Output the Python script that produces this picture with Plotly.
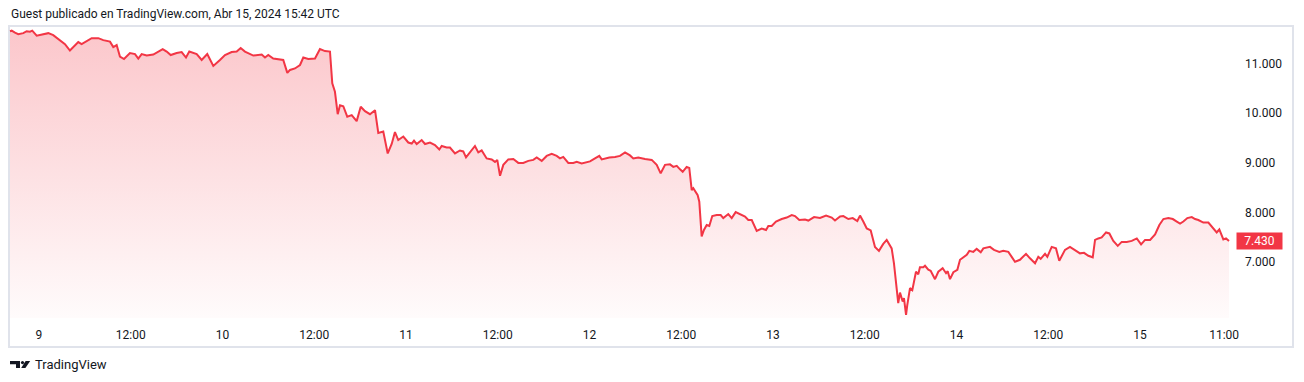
import pandas as pd
import plotly.graph_objects as go

# ---- data (hours since 2024-04-09 00:00, price) ----
hours = [-3.79, -3.57, -3.14, -2.71, -2.05, -1.61, -1.18, -0.88, -0.30, 0.35, 1.22, 1.87, 2.52, 3.40, 4.05,
         4.71, 5.14, 5.58, 6.24, 6.89, 7.76, 8.41, 9.29, 9.72, 10.16, 10.59, 11.12, 11.90, 12.56, 12.99,
         13.43, 14.09, 14.95, 15.60, 16.18, 16.70, 17.23, 18.01, 18.66, 19.23, 19.66, 20.63, 21.28, 22.01,
         22.80, 23.67, 24.33, 25.20, 25.86, 26.38, 26.94, 28.03, 29.13, 29.56, 29.99, 30.64, 31.30, 31.95,
         32.48, 32.83, 33.48, 34.14, 34.57, 35.22, 36.10, 36.75, 37.41, 38.06, 38.36, 38.71, 39.07, 39.37,
         39.80, 40.32, 40.90, 41.55, 42.08, 42.64, 43.29, 43.95, 44.38, 45.03, 45.61, 46.13, 46.56, 46.99,
         47.65, 48.30, 48.75, 49.05, 49.40, 50.05, 50.49, 51.14, 51.79, 52.36, 52.67, 53.32, 53.75, 54.41,
         55.06, 55.49, 55.85, 56.46, 57.02, 57.46, 57.90, 58.55, 59.21, 59.64, 59.94, 60.30, 60.73, 61.38,
         62.04, 62.69, 63.34, 64.00, 64.65, 65.10, 65.75, 66.40, 67.06, 67.71, 68.14, 68.57, 69.23, 69.88,
         70.33, 70.98, 71.41, 72.07, 72.72, 73.28, 73.60, 74.03, 74.59, 75.34, 75.99, 76.65, 77.30, 77.73,
         78.38, 79.26, 80.14, 80.79, 81.31, 81.88, 82.53, 82.96, 83.41, 83.84, 84.19, 84.71, 85.05, 85.37,
         85.58, 86.15, 86.36, 86.67, 86.97, 87.33, 87.67, 88.06, 88.64, 89.16, 89.50, 90.15, 90.60, 91.12,
         91.69, 92.34, 92.77, 93.22, 93.87, 94.52, 95.09, 95.39, 95.83, 96.39, 97.14, 97.79, 98.45, 98.88,
         99.44, 100.19, 100.62, 101.37, 102.15, 102.94, 103.68, 104.11, 104.77, 105.20, 105.85, 106.43,
         107.03, 107.38, 107.81, 108.26, 108.78, 109.34, 109.86, 110.42, 110.87, 111.52, 111.82, 112.18,
         112.38, 112.61, 112.96, 113.13, 113.40, 113.56, 113.92, 114.22, 114.70, 115.00, 115.22, 115.66,
         115.88, 116.31, 116.62, 117.19, 117.62, 118.19, 118.63, 118.85, 119.15, 119.59, 120.11, 120.46,
         120.89, 121.34, 121.68, 122.20, 122.64, 123.17, 123.51, 124.38, 124.90, 125.60, 126.12, 126.78,
         127.22, 127.65, 128.30, 129.09, 129.61, 130.27, 130.70, 131.01, 131.58, 131.88, 132.45, 133.01,
         133.44, 133.89, 134.19, 134.84, 135.50, 136.15, 136.68, 137.24, 137.82, 138.12, 138.55, 138.99,
         139.56, 139.99, 140.51, 141.09, 141.61, 142.27, 142.92, 143.58, 144.14, 144.66, 145.32, 145.97,
         146.53, 147.06, 147.71, 148.29, 148.81, 149.24, 149.67, 150.19, 150.77, 151.20, 151.63, 152.28,
         152.94, 153.51, 154.03, 154.37, 154.90, 155.25, 155.64]

prices = [11.65, 11.66, 11.62, 11.59, 11.61, 11.65, 11.64, 11.66, 11.56, 11.58, 11.61, 11.57, 11.49, 11.39, 11.26,
          11.37, 11.43, 11.39, 11.45, 11.51, 11.51, 11.47, 11.44, 11.33, 11.37, 11.14, 11.09, 11.21, 11.19, 11.10,
          11.19, 11.16, 11.18, 11.24, 11.29, 11.24, 11.17, 11.21, 11.23, 11.12, 11.24, 11.19, 11.07, 11.19,
          10.95, 11.07, 11.17, 11.23, 11.24, 11.31, 11.24, 11.16, 11.18, 11.12, 11.17, 11.10, 11.09, 11.07,
          10.81, 10.87, 10.90, 10.97, 11.12, 11.09, 11.10, 11.29, 11.25, 11.24, 10.60, 10.43, 9.98, 10.16,
          10.14, 9.93, 9.96, 9.84, 10.13, 10.04, 9.98, 10.06, 9.60, 9.63, 9.19, 9.38, 9.62, 9.46,
          9.53, 9.41, 9.39, 9.45, 9.38, 9.46, 9.38, 9.41, 9.36, 9.27, 9.34, 9.31, 9.31, 9.19,
          9.25, 9.23, 9.11, 9.23, 9.34, 9.21, 9.25, 9.09, 9.07, 9.02, 9.06, 8.74, 8.96, 9.07,
          9.08, 9.00, 9.00, 9.04, 9.06, 9.11, 9.04, 9.14, 9.18, 9.14, 9.09, 9.12, 9.00, 9.00,
          9.02, 8.99, 9.01, 9.03, 9.09, 9.14, 9.07, 9.09, 9.11, 9.12, 9.14, 9.21, 9.15, 9.09,
          9.11, 9.08, 9.06, 8.96, 8.79, 8.96, 8.97, 8.92, 8.94, 8.87, 8.82, 8.92, 8.90, 8.45,
          8.49, 8.35, 8.22, 7.52, 7.65, 7.75, 7.73, 7.93, 7.95, 7.95, 7.89, 7.97, 7.89, 8.01,
          7.97, 7.92, 7.85, 7.85, 7.63, 7.68, 7.65, 7.73, 7.73, 7.82, 7.87, 7.90, 7.95, 7.93,
          7.85, 7.86, 7.84, 7.91, 7.89, 7.94, 7.90, 7.84, 7.92, 7.93, 7.87, 7.89,
          7.83, 7.94, 7.82, 7.68, 7.64, 7.31, 7.23, 7.37, 7.45, 7.28, 6.98, 6.44,
          6.18, 6.39, 6.21, 6.28, 5.94, 6.14, 6.48, 6.44, 6.81, 6.76, 6.90, 6.90,
          6.93, 6.85, 6.83, 6.66, 6.81, 6.88, 6.78, 6.82, 6.66, 6.80, 6.85, 7.05,
          7.10, 7.15, 7.23, 7.21, 7.27, 7.20, 7.28, 7.31, 7.25, 7.21, 7.23, 7.21,
          7.11, 7.01, 7.05, 7.17, 7.08, 6.98, 7.11, 7.07, 7.17, 7.11, 7.31, 7.28,
          7.03, 7.17, 7.25, 7.31, 7.25, 7.18, 7.19, 7.13, 7.10, 7.45, 7.48, 7.50,
          7.60, 7.58, 7.43, 7.33, 7.41, 7.41, 7.43, 7.48, 7.36, 7.45, 7.45, 7.56,
          7.75, 7.87, 7.89, 7.87, 7.82, 7.78, 7.82, 7.89, 7.91, 7.87, 7.85, 7.80,
          7.80, 7.70, 7.60, 7.66, 7.46, 7.48, 7.43]

last_price = 7.43
base_time = "2024-04-09 00:00"

tick_hours = [0, 12, 24, 36, 48, 60, 72, 84, 96, 108, 120, 132, 144, 155]
tick_labels = ["9", "12:00", "10", "12:00", "11", "12:00", "12", "12:00", "13", "12:00",
               "14", "12:00", "15", "11:00"]

price_ticks = [7, 8, 9, 10, 11]
price_labels = ["7.000", "8.000", "9.000", "10.000", "11.000"]

x_range_hours = [-3.92, 155.77]
y_range = [5.879, 11.734]

title_text = "Guest publicado en TradingView.com, Abr 15, 2024 15:42 UTC"
brand_text = "TradingView"

# ---- build ----
base = pd.Timestamp(base_time)
times = [base + pd.Timedelta(hours=h) for h in hours]
tick_times = [base + pd.Timedelta(hours=h) for h in tick_hours]
xr = [base + pd.Timedelta(hours=h) for h in x_range_hours]

RED = "#f23645"
TXT = "#131722"
FONT = "Roboto"

W, H = 1304, 382
L, R, T, B = 9, 1230, 27, 318


def px(x):
    return (x - L) / (R - L)


def py(y):
    return (B - y) / (B - T)


fig = go.Figure()
fig.add_trace(go.Scatter(
    x=times, y=prices, mode="lines",
    line=dict(color=RED, width=2),
    fill="tozeroy",
    fillgradient=dict(type="vertical", start=y_range[0], stop=max(prices),
                      colorscale=[[0, "rgba(242,54,69,0.02)"], [1, "rgba(242,54,69,0.28)"]]),
    hoverinfo="skip", showlegend=False,
))

shapes = [
    dict(type="rect", xref="paper", yref="paper", x0=px(9), x1=px(1293), y0=py(347), y1=py(26),
         line=dict(color="#e0e3eb", width=2), fillcolor="rgba(0,0,0,0)", layer="below"),
]


def path(points):
    return "M " + " L ".join(f"{px(a):.5f},{py(b):.5f}" for a, b in points) + " Z"


# TradingView logo (approximate glyph)
shapes.append(dict(type="path", xref="paper", yref="paper",
                   path=path([(10, 361), (20, 361), (20, 368), (16, 368), (16, 364.2), (10, 364.2)]),
                   fillcolor=TXT, line=dict(width=0)))
shapes.append(dict(type="circle", xref="paper", yref="paper",
                   x0=px(20.9), x1=px(24.1), y0=py(364.2), y1=py(361),
                   fillcolor=TXT, line=dict(width=0)))
shapes.append(dict(type="path", xref="paper", yref="paper",
                   path=path([(25.6, 361), (30.2, 361), (25.4, 368), (21.2, 368)]),
                   fillcolor=TXT, line=dict(width=0)))

annotations = [
    dict(text=title_text, xref="paper", yref="paper", x=px(9), y=py(14), xanchor="left", yanchor="middle",
         showarrow=False, font=dict(family=FONT, size=12, color=TXT)),
    dict(text=brand_text, xref="paper", yref="paper", x=px(33), y=py(364.5), xanchor="left", yanchor="middle",
         showarrow=False, font=dict(family=FONT, size=13, color=TXT)),
    dict(text=f"{last_price:.3f}", xref="paper", yref="y", x=px(1236), y=last_price,
         xanchor="left", yanchor="middle", showarrow=False, bgcolor=RED,
         width=43, height=14, borderpad=1, align="center",
         font=dict(family=FONT, size=12, color="white")),
]

fig.update_layout(
    width=W, height=H,
    margin=dict(l=L, r=W - R, t=T, b=H - B, pad=0),
    paper_bgcolor="white", plot_bgcolor="white",
    shapes=shapes, annotations=annotations,
    font=dict(family=FONT, size=12, color=TXT),
    xaxis=dict(type="date", range=xr, tickvals=tick_times, ticktext=tick_labels,
               showgrid=False, zeroline=False, showline=False, ticks="",
               ticklabelstandoff=8, tickfont=dict(family=FONT, size=12, color=TXT), fixedrange=True),
    yaxis=dict(side="right", range=y_range, tickvals=price_ticks, ticktext=price_labels,
               showgrid=False, zeroline=False, showline=False, ticks="",
               ticklabelstandoff=14, tickfont=dict(family=FONT, size=12, color=TXT), fixedrange=True),
)

fig.write_html("out.html", config={"displayModeBar": False})
